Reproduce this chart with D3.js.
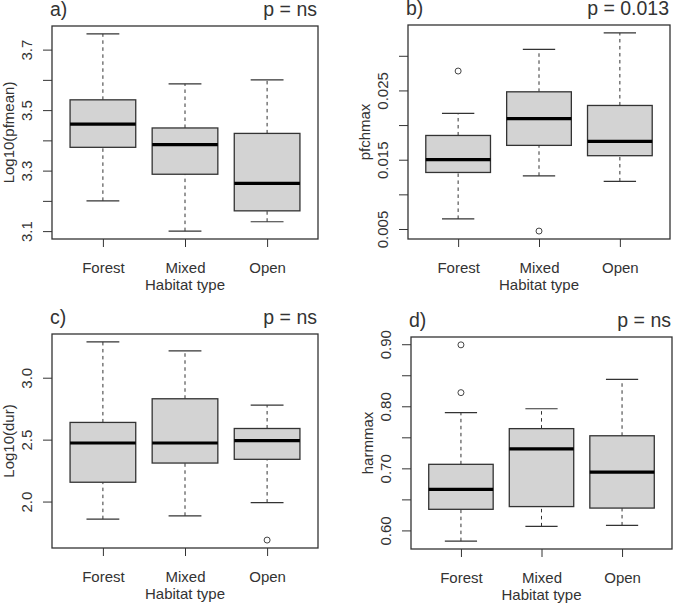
<!DOCTYPE html>
<html>
<head>
<meta charset="utf-8">
<script src="https://cdn.jsdelivr.net/npm/d3@7"></script>
<style>
  body { margin: 0; background: #fff; }
  text { font-family: "Liberation Sans", Arial, sans-serif; fill: #333; }
</style>
</head>
<body>
<div id="chart"></div>
<script>
// categories
const habitats = ['Forest', 'Mixed', 'Open'];

// five-number summaries per habitat: [lower whisker, Q1, median, Q3, upper whisker]
const pfmeanStats = [
  [3.200, 3.377, 3.454, 3.534, 3.752],
  [3.100, 3.288, 3.386, 3.441, 3.587],
  [3.131, 3.167, 3.258, 3.423, 3.600]
];
const pfmeanOutliers = [[], [], []];

const pfchmaxStats = [
  [0.00645, 0.01316, 0.0150, 0.0185, 0.0217],
  [0.01268, 0.01707, 0.02094, 0.0248, 0.03094],
  [0.01186, 0.01558, 0.01765, 0.02283, 0.0333]
];
const pfchmaxOutliers = [[0.0278], [0.0047], []];

const durStats = [
  [1.858, 2.156, 2.473, 2.639, 3.289],
  [1.885, 2.311, 2.473, 2.830, 3.216],
  [1.992, 2.341, 2.492, 2.590, 2.779]
];
const durOutliers = [[], [], [1.689]];

const harmmaxStats = [
  [0.5827, 0.634, 0.666, 0.7065, 0.7898],
  [0.6065, 0.6384, 0.7314, 0.764, 0.796],
  [0.608, 0.636, 0.694, 0.7525, 0.8433]
];
const harmmaxOutliers = [[0.899, 0.822], [], []];

// y ticks and the subset that gets a label
const pfmeanTicks = [3.1, 3.2, 3.3, 3.4, 3.5, 3.6, 3.7];
const pfmeanLabels = ['3.1', '3.3', '3.5', '3.7'];
const pfchmaxTicks = [0.005, 0.010, 0.015, 0.020, 0.025, 0.030];
const pfchmaxLabels = ['0.005', '0.015', '0.025'];
const durTicks = [2.0, 2.5, 3.0];
const durLabels = ['2.0', '2.5', '3.0'];
const harmmaxTicks = [0.60, 0.65, 0.70, 0.75, 0.80, 0.85, 0.90];
const harmmaxLabels = ['0.60', '0.70', '0.80', '0.90'];

const panels = [
  { tag: 'a)', p: 'p = ns', ylab: 'Log10(pfmean)', stats: pfmeanStats, out: pfmeanOutliers, ticks: pfmeanTicks, labels: pfmeanLabels, digits: 1 },
  { tag: 'b)', p: 'p = 0.013', ylab: 'pfchmax', stats: pfchmaxStats, out: pfchmaxOutliers, ticks: pfchmaxTicks, labels: pfchmaxLabels, digits: 3 },
  { tag: 'c)', p: 'p = ns', ylab: 'Log10(dur)', stats: durStats, out: durOutliers, ticks: durTicks, labels: durLabels, digits: 1 },
  { tag: 'd)', p: 'p = ns', ylab: 'harmmax', stats: harmmaxStats, out: harmmaxOutliers, ticks: harmmaxTicks, labels: harmmaxLabels, digits: 2 }
];

// plot regions (left, top, right, bottom)
const boxes = [
  [52, 26, 318, 239],
  [408, 25, 670, 239],
  [52, 334, 318, 548],
  [411, 337, 672, 549]
];

const svg = d3.select('#chart')
  .append('svg')
  .attr('width', 677)
  .attr('height', 603);

svg.append('rect').attr('width', 677).attr('height', 603).attr('fill', '#fff');

panels.forEach((pn, k) => {
  const [left, top, right, bottom] = boxes[k];
  const g = svg.append('g');

  // R style range: data extent padded by 4%
  const all = pn.stats.flat().concat(pn.out.flat());
  const [lo, hi] = d3.extent(all);
  const pad = (hi - lo) * 0.04;

  const y = d3.scaleLinear().domain([lo - pad, hi + pad]).range([bottom, top]);
  const x = d3.scalePoint().domain(habitats).range([left, right]).padding(0.62);
  const bw = x.step() * 0.8;
  const cap = bw * 0.5;

  // y axis
  const fmt = d3.format('.' + pn.digits + 'f');
  const yAxis = g.append('g')
    .attr('transform', 'translate(' + left + ',0)')
    .call(d3.axisLeft(y).tickValues(pn.ticks).tickSize(9)
      .tickFormat(d => pn.labels.includes(fmt(d)) ? fmt(d) : ''));
  yAxis.select('.domain').remove();
  yAxis.selectAll('line').attr('stroke', '#333');
  yAxis.selectAll('text')
    .attr('transform', 'rotate(-90)')
    .attr('x', 0)
    .attr('y', -25)
    .attr('dy', '0.35em')
    .attr('text-anchor', 'middle')
    .style('font-size', '15px')
    .style('font-family', '"Liberation Sans", Arial, sans-serif')
    .attr('fill', '#333');

  // x axis
  const xAxis = g.append('g')
    .attr('transform', 'translate(0,' + bottom + ')')
    .call(d3.axisBottom(x).tickSize(8));
  xAxis.select('.domain').remove();
  xAxis.selectAll('line').attr('stroke', '#333');
  xAxis.selectAll('text')
    .attr('y', 34)
    .attr('dy', 0)
    .style('font-size', '15px')
    .style('font-family', '"Liberation Sans", Arial, sans-serif')
    .attr('fill', '#333');

  g.append('text')
    .attr('x', (left + right) / 2)
    .attr('y', bottom + 51)
    .attr('text-anchor', 'middle')
    .style('font-size', '15px')
    .text('Habitat type');

  g.append('text')
    .attr('transform', 'translate(' + (left - 38) + ',' + ((top + bottom) / 2) + ') rotate(-90)')
    .attr('text-anchor', 'middle')
    .style('font-size', '15px')
    .text(pn.ylab);

  // titles
  g.append('text')
    .attr('x', left - 2)
    .attr('y', top - 10)
    .style('font-size', '19.5px')
    .text(pn.tag);
  g.append('text')
    .attr('x', right - 1)
    .attr('y', top - 10)
    .attr('text-anchor', 'end')
    .style('font-size', '19.5px')
    .text(pn.p);

  // boxplots
  const items = g.selectAll('.box')
    .data(habitats.map((h, i) => ({ h, s: pn.stats[i], o: pn.out[i] })))
    .enter()
    .append('g')
    .attr('class', 'box');

  items.append('line')
    .attr('x1', d => x(d.h)).attr('x2', d => x(d.h))
    .attr('y1', d => y(d.s[0])).attr('y2', d => y(d.s[1]))
    .attr('stroke', '#333').attr('stroke-dasharray', '3.5,3.5');
  items.append('line')
    .attr('x1', d => x(d.h)).attr('x2', d => x(d.h))
    .attr('y1', d => y(d.s[3])).attr('y2', d => y(d.s[4]))
    .attr('stroke', '#333').attr('stroke-dasharray', '3.5,3.5');

  [0, 4].forEach(j => {
    items.append('line')
      .attr('x1', d => x(d.h) - cap / 2).attr('x2', d => x(d.h) + cap / 2)
      .attr('y1', d => y(d.s[j])).attr('y2', d => y(d.s[j]))
      .attr('stroke', '#333').attr('stroke-width', 1.2);
  });

  items.append('rect')
    .attr('x', d => x(d.h) - bw / 2)
    .attr('width', bw)
    .attr('y', d => y(d.s[3]))
    .attr('height', d => y(d.s[1]) - y(d.s[3]))
    .attr('fill', '#d3d3d3')
    .attr('stroke', '#333')
    .attr('stroke-width', 1.3);

  items.append('line')
    .attr('x1', d => x(d.h) - bw / 2).attr('x2', d => x(d.h) + bw / 2)
    .attr('y1', d => y(d.s[2])).attr('y2', d => y(d.s[2]))
    .attr('stroke', '#000').attr('stroke-width', 3.2);

  items.selectAll('circle')
    .data(d => d.o.map(v => ({ h: d.h, v })))
    .enter()
    .append('circle')
    .attr('cx', d => x(d.h))
    .attr('cy', d => y(d.v))
    .attr('r', 3)
    .attr('fill', 'none')
    .attr('stroke', '#444')
    .attr('stroke-width', 1);

  // plot frame
  g.append('rect')
    .attr('x', left).attr('y', top)
    .attr('width', right - left).attr('height', bottom - top)
    .attr('fill', 'none')
    .attr('stroke', '#333')
    .attr('stroke-width', 1.3);
});
</script>
</body>
</html>
